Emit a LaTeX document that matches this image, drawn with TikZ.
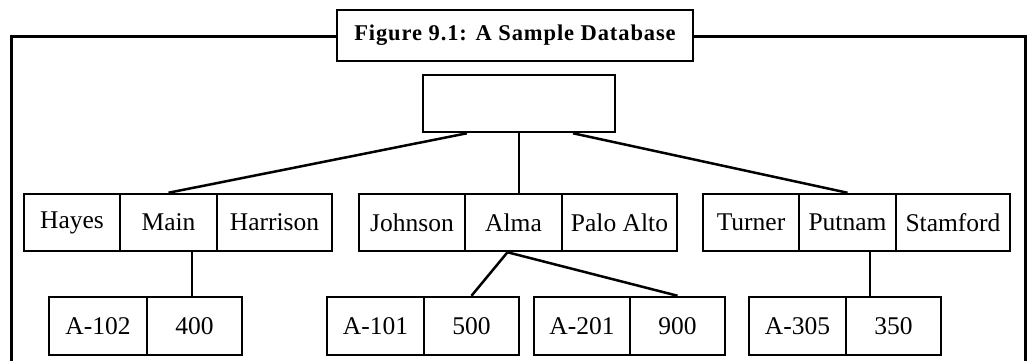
\documentclass[tikz,border=0pt]{standalone}
\usepackage{fontspec}
\setmainfont{Liberation Serif}
\usepackage{tikz}

\begin{document}
\begin{tikzpicture}[x=1pt, y=-1pt,
    cell/.style={draw, line width=2.5pt, inner sep=0pt, minimum height=57pt,
        font=\fontsize{25.5}{30}\selectfont},
    link/.style={line width=2.5pt}]
    \useasboundingbox (0,0) rectangle (1029,360);

    % Khung ngoài và tiêu đề
    \draw[line width=3pt] (11.5,362) -- (11.5,36.5) -- (1025.5,36.5) -- (1025.5,362);
    \node[draw, fill=white, line width=2.5pt, minimum width=356pt, minimum height=51pt,
        font=\fontsize{22.5}{27}\selectfont\bfseries\addfontfeatures{LetterSpace=4}] (title) at (515,35.5)
        {Figure 9.1: A Sample Database};

    % Nút gốc
    \node[cell, minimum width=192pt] (root) at (519,103.5) {};

    % Hàng giữa
    \node[cell, minimum width=96pt]  (Hayes)    at (72,222.5)    {Hayes};
    \node[cell, minimum width=97pt]  (Main)     at (168.5,222.5) {Main};
    \node[cell, minimum width=115pt] (Harrison) at (274.5,222.5) {Harrison};

    \node[cell, minimum width=106pt] (Johnson)  at (412,222.5)   {Johnson};
    \node[cell, minimum width=97pt]  (Alma)     at (513.5,222.5) {Alma};
    \node[cell, minimum width=115pt] (PaloAlto) at (619.5,222.5) {Palo Alto};

    \node[cell, minimum width=96pt]  (Turner)   at (751,222.5)   {Turner};
    \node[cell, minimum width=97pt]  (Putnam)   at (847.5,222.5) {Putnam};
    \node[cell, minimum width=114pt] (Stamford) at (953,222.5)   {Stamford};

    % Hàng dưới
    \node[cell, minimum width=98pt, minimum height=58pt] (A102) at (98,326)    {A-102};
    \node[cell, minimum width=95pt, minimum height=58pt] (v400) at (194.5,326) {400};

    \node[cell, minimum width=97pt, minimum height=58pt] (A101) at (375.5,326) {A-101};
    \node[cell, minimum width=95pt, minimum height=58pt] (v500) at (471.5,326) {500};

    \node[cell, minimum width=96pt, minimum height=58pt] (A201) at (582,326)   {A-201};
    \node[cell, minimum width=95pt, minimum height=58pt] (v900) at (677.5,326) {900};

    \node[cell, minimum width=97pt, minimum height=58pt] (A305) at (797.5,326) {A-305};
    \node[cell, minimum width=95pt, minimum height=58pt] (v350) at (893.5,326) {350};

    % Nối các nút
    \draw[link] ([xshift=-52pt]root.south) -- (Main.north);
    \draw[link] (root.south) -- (root.south |- Alma.north);
    \draw[link] ([xshift=54pt]root.south) -- (Putnam.north);

    \draw[link] ([xshift=-2.5pt]v400.north) -- ([xshift=-2.5pt]v400.north |- Main.south);
    \draw[link] ([xshift=-6pt]Alma.south) -- (v500.north);
    \draw[link] ([xshift=-6pt]Alma.south) -- (v900.north);
    \draw[link] ([xshift=22.5pt]Putnam.south) -- ([xshift=22.5pt]Putnam.south |- v350.north);
\end{tikzpicture}
\end{document}
